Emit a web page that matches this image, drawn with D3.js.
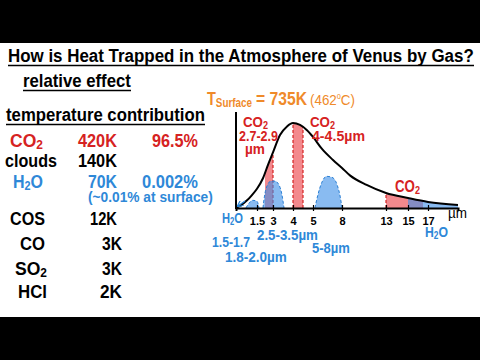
<!DOCTYPE html>
<html><head><meta charset="utf-8">
<script src="https://cdn.jsdelivr.net/npm/d3@7"></script>
<style>html,body{margin:0;padding:0;background:#000;} svg{display:block;font-family:"Liberation Sans",Arial,sans-serif;}</style>
</head><body>
<svg id="c" width="480" height="360"></svg>
<script>
// ---- data ----
const wavelengths = [0,0.36,0.79,1.14,1.5,2.06,2.53,3,3.35,3.7,4,4.35,4.7,5,5.93,7.07,8,8.9,10.8,13,15,17,20];
const intensity   = [0,3,8,13.5,20,31,45,58,76,85,88.5,86.5,81,74,61.5,50,41.7,34,24,15.6,10.4,6.3,3.1];
const tickValues = [1.5,3,4,5,8,13,15,17];
const co2Bands = [[2.25,3.0],[4.0,4.5],[13,16.5]];
const co2DashedAt = [3.0,4.0,4.5,13];
const h2oBellW = [[0.71,0.93,1.21,1.5,1.69],[2.06,2.19,2.44,2.81,3.1,3.3,3.45,3.55],[5.2,5.5,5.93,6.4,6.96,7.5,7.8,8.0]];
const h2oBellI = [[0,5,8,7,0],[0,11.5,23,28,28,24,13.5,0],[0,13.5,27,33,32,24,12.5,0]];
const h2oTailBand = [15,20];
const gases = ["CO2","clouds","H2O","COS","CO","SO2","HCl"];
const tempK = ["420K","140K","70K","12K","3K","3K","2K"];
const share = ["96.5%","","0.002%","","","",""];
const rowColor = ["red","black","blue","black","black","black","black"];

const RED="#d62222", BLUE="#2e88d8", ORANGE="#ef8a2a";
const WATER="#3a8ee8", WATER_OP=0.6;
const colorOf = {red:RED, black:"#000", blue:BLUE};

const svg = d3.select("#c");
svg.append("rect").attr("x",0).attr("y",43).attr("width",480).attr("height",274).attr("fill","#fff");

function chem(s){ const out=[]; s.replace(/([^0-9]+)|([0-9]+)/g,(m,a,b)=>{out.push([m,b?"sub":""]);}); return out; }
function label(segs,x0,y0,size,color,w,weight){
  const g=svg.append("g");
  const t=g.append("text").attr("font-size",size).attr("fill",color).attr("font-weight",weight||"bold");
  let off=0;
  segs.forEach(([s,m])=>{
    const sp=t.append("tspan").text(s);
    let target=0;
    if(m==="sub"){sp.attr("font-size",size*0.68);target=size*0.1;}
    if(m==="sup"){sp.attr("font-size",size*0.55);target=-size*0.4;}
    sp.attr("dy",target-off); off=target;
  });
  const len=t.node().getComputedTextLength();
  const sx = w ? w/len : 1;
  g.attr("transform",`translate(${x0},${y0}) scale(${sx},1)`);
  return g;
}
function uline(x1,x2,yy){svg.append("line").attr("x1",x1).attr("x2",x2).attr("y1",yy).attr("y2",yy).attr("stroke","#000").attr("stroke-width",1.6);}

// titles
label([["How is Heat Trapped in the Atmosphere of Venus by Gas?",""]],8,62,19,"#000",466);
uline(8,474,65.5);
label([["relative effect",""]],23,87,19,"#000",108);
uline(23,131,90.5);
label([["temperature contribution",""]],6,121,18,"#000",199);
uline(6,205,124.5);

// table
const rowY=[147,167,188,225,250,275,298];
const gasX=[[10,33],[5,52],[13,30],[10,35],[20,25],[15,32],[18,29]];
const tempX=[[78,39],[78,39],[88,29],[90,27],[102,20],[102,20],[100,22]];
const shareX=[[152,46],[0,0],[142,56]];
gases.forEach((g,i)=>{
  const c=colorOf[rowColor[i]];
  label(chem(g),gasX[i][0],rowY[i],19,c,gasX[i][1]);
  label([[tempK[i],""]],tempX[i][0],rowY[i],19,c,tempX[i][1]);
  if(share[i]) label([[share[i],""]],shareX[i][0],rowY[i],19,c,shareX[i][1]);
});
label([["(~0.01% at surface)",""]],88,202,14,BLUE,125);

// ---- chart ----
const x=d3.scaleLinear().domain([0,1.5,3,4,5,8,13,15,17,20]).range([236,257,273,293,313,342,386,408,428,458]);
const y=d3.scaleLinear().domain([0,100]).range([208,112]);
const pts=wavelengths.map((w,i)=>[w,intensity[i]]);
const area=d3.area().x(d=>x(d[0])).y0(y(0)).y1(d=>y(d[1])).curve(d3.curveMonotoneX);
const line=d3.line().x(d=>x(d[0])).y(d=>y(d[1])).curve(d3.curveMonotoneX);
svg.append("defs").append("clipPath").attr("id","under").append("path").attr("d",area(pts));

const under=svg.append("g").attr("clip-path","url(#under)");
co2Bands.forEach(b=>{
  under.append("rect").attr("x",x(b[0])).attr("width",x(b[1])-x(b[0])).attr("y",y(100)).attr("height",y(0)-y(100)).attr("fill","#f3898d");
});
under.append("rect").attr("x",x(h2oTailBand[0])).attr("width",x(h2oTailBand[1])-x(h2oTailBand[0])).attr("y",y(100)).attr("height",y(0)-y(100))
  .attr("fill",WATER).attr("fill-opacity",WATER_OP);
co2DashedAt.forEach(w=>{
  under.append("line").attr("x1",x(w)).attr("x2",x(w)).attr("y1",y(0)).attr("y2",y(100)).attr("stroke",RED).attr("stroke-width",1.2).attr("stroke-dasharray","3,2");
});
const bellArea=d3.area().x(d=>x(d[0])).y0(y(0)).y1(d=>y(d[1])).curve(d3.curveMonotoneX);
const bellLine=d3.line().x(d=>x(d[0])).y(d=>y(d[1])).curve(d3.curveMonotoneX);
h2oBellW.forEach((ws,k)=>{
  const bp=ws.map((w,i)=>[w,h2oBellI[k][i]]);
  svg.append("path").attr("d",bellArea(bp)).attr("fill",WATER).attr("fill-opacity",WATER_OP);
  svg.append("path").attr("d",bellLine(bp)).attr("fill","none").attr("stroke","#2a7fd4").attr("stroke-width",1).attr("stroke-dasharray","3,2");
});
svg.append("path").attr("d",line(pts)).attr("fill","none").attr("stroke","#000").attr("stroke-width",2);

// axes
svg.append("line").attr("x1",236).attr("x2",236).attr("y1",y(100)).attr("y2",y(0)+1).attr("stroke","#000").attr("stroke-width",2);
const ax=svg.append("g").attr("transform",`translate(0,${y(0)})`)
  .call(d3.axisBottom(x).tickValues(tickValues).tickSizeOuter(0).tickSize(3).tickFormat(d=>String(d)));
ax.select(".domain").attr("stroke-width",2);
ax.selectAll(".tick line").attr("y1",-3).attr("y2",3).attr("stroke-width",1.2);
ax.selectAll(".tick text").attr("y",17).attr("dy",0).attr("font-size",11).attr("font-weight","bold")
  .attr("font-family","'Liberation Sans',Arial,sans-serif").attr("fill","#000");
label([["µm",""]],448,218,14,"#000",19,"normal");

// arrow near origin
svg.append("defs").append("marker").attr("id","ah").attr("viewBox","0 0 10 10").attr("refX",8).attr("refY",5)
  .attr("markerWidth",5).attr("markerHeight",5).attr("orient","auto")
  .append("path").attr("d","M0,0L10,5L0,10").attr("fill","none").attr("stroke",BLUE).attr("stroke-width",2);
svg.append("line").attr("x1",245).attr("y1",201).attr("x2",238).attr("y2",206).attr("stroke",BLUE).attr("stroke-width",1.2).attr("marker-end","url(#ah)");

// chart labels
label([["T",""],["Surface","sub"]],207,105,18,ORANGE,45);
label([["= 735K",""]],256,105,18,ORANGE,51);
label([["(462",""],["o","sup"],["C)",""]],310,105,15,ORANGE,45,"normal");

label(chem("CO2"),243,127,15,RED,25);
label([["2.7-2.9",""]],239,141,15,RED,39);
label([["µm",""]],245,154,15,RED,20);
label(chem("CO2"),310,127,15,RED,25);
label([["4-4.5µm",""]],312,141,15,RED,53);
label(chem("CO2"),395,192,16,RED,25);

label(chem("H2O"),222,223,15,BLUE,21);
label([["2.5-3.5µm",""]],257,240,15,BLUE,61);
label([["1.5-1.7",""]],212,247,15,BLUE,38);
label([["1.8-2.0µm",""]],225,262,15,BLUE,62);
label([["5-8µm",""]],312,253,15,BLUE,38);
label(chem("H2O"),425,237,15,BLUE,23);
</script>
</body></html>
